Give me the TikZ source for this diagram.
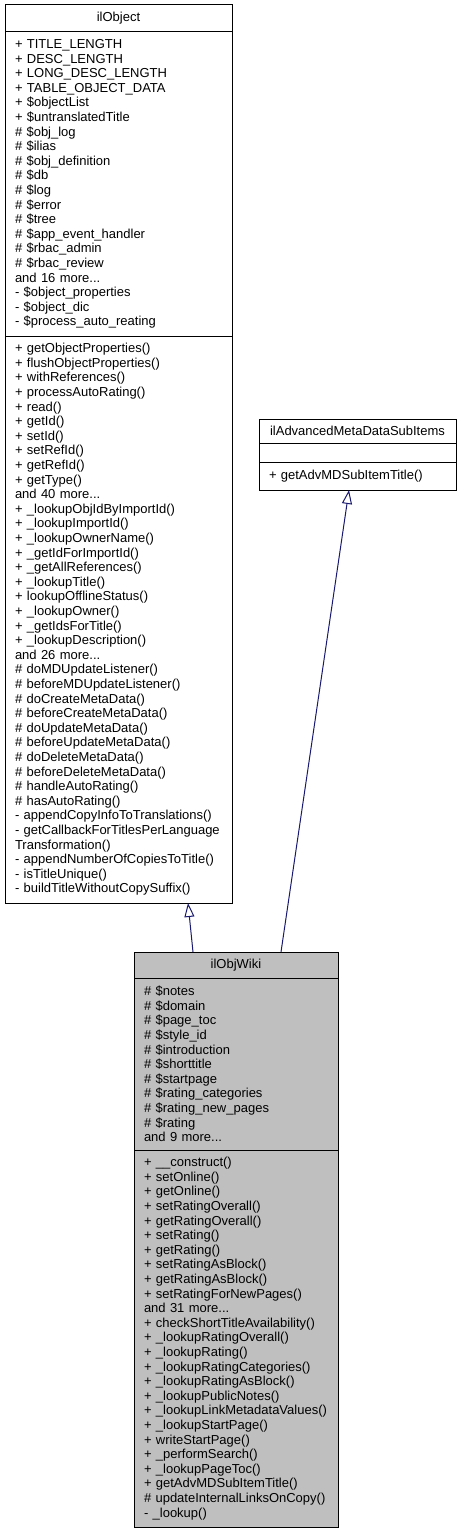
\documentclass[tikz,border=0pt]{standalone}
\usepackage{fontspec}
\setmainfont{Liberation Sans}
\usepackage{xcolor}
\usepackage{tikz}
\usetikzlibrary{arrows.meta}
\usetikzlibrary{positioning}
\definecolor{azulseta}{HTML}{191970}
\definecolor{cinzaclasse}{HTML}{BFBFBF}
\newcommand{\membro}{\fontsize{13}{14.6}\selectfont}
\tikzset{
  secao/.style={draw=black, line width=1pt, outer sep=0pt, inner xsep=10pt, inner ysep=2pt, text width=#1, align=left, font=\membro},
  secao/.default=207pt,
  titulo/.style={secao=#1, align=center},
  titulo/.default=207pt,
  heranca/.style={draw=azulseta, line width=1pt, -{Triangle[open, length=14pt, width=10pt]}},
}

\begin{document}
\begin{tikzpicture}[x=1pt, y=-1pt, node distance=0pt]
  \useasboundingbox (0,0) rectangle (461,1533);

  \node[titulo, minimum height=27pt, anchor=north west] (objtit) at (5,5) {ilObject};
  \node[secao, minimum height=304pt, below=of objtit] (objatr) {+ TITLE\_LENGTH\\
+ DESC\_LENGTH\\
+ LONG\_DESC\_LENGTH\\
+ TABLE\_OBJECT\_DATA\\
+ \$objectList\\
+ \$untranslatedTitle\\
\# \$obj\_log\\
\# \$ilias\\
\# \$obj\_definition\\
\# \$db\\
\# \$log\\
\# \$error\\
\# \$tree\\
\# \$app\_event\_handler\\
\# \$rbac\_admin\\
\# \$rbac\_review\\
and 16 more...\\
- \$object\_properties\\
- \$object\_dic\\
- \$process\_auto\_reating};
  \node[secao, minimum height=567pt, below=of objatr] (objmet) {+ getObjectProperties()\\
+ flushObjectProperties()\\
+ withReferences()\\
+ processAutoRating()\\
+ read()\\
+ getId()\\
+ setId()\\
+ setRefId()\\
+ getRefId()\\
+ getType()\\
and 40 more...\\
+ \_lookupObjIdByImportId()\\
+ \_lookupImportId()\\
+ \_lookupOwnerName()\\
+ \_getIdForImportId()\\
+ \_getAllReferences()\\
+ \_lookupTitle()\\
+ lookupOfflineStatus()\\
+ \_lookupOwner()\\
+ \_getIdsForTitle()\\
+ \_lookupDescription()\\
and 26 more...\\
\# doMDUpdateListener()\\
\# beforeMDUpdateListener()\\
\# doCreateMetaData()\\
\# beforeCreateMetaData()\\
\# doUpdateMetaData()\\
\# beforeUpdateMetaData()\\
\# doDeleteMetaData()\\
\# beforeDeleteMetaData()\\
\# handleAutoRating()\\
\# hasAutoRating()\\
- appendCopyInfoToTranslations()\\
-~getCallbackForTitlesPerLanguage\\
Transformation()\\
- appendNumberOfCopiesToTitle()\\
- isTitleUnique()\\
- buildTitleWithoutCopySuffix()};

  \node[titulo=177pt, minimum height=24pt, anchor=north west] (advtit) at (259,419) {ilAdvancedMetaDataSubItems};
  \node[secao=177pt, minimum height=19pt, below=of advtit] (advatr) {};
  \node[secao=177pt, minimum height=28pt, below=of advatr] (advmet) {+ getAdvMDSubItemTitle()};

  \node[titulo=184pt, fill=cinzaclasse, minimum height=26pt, anchor=north west] (wikitit) at (134,952) {ilObjWiki};
  \node[secao=184pt, fill=cinzaclasse, minimum height=172pt, below=of wikitit] (wikiatr) {\# \$notes\\
\# \$domain\\
\# \$page\_toc\\
\# \$style\_id\\
\# \$introduction\\
\# \$shorttitle\\
\# \$startpage\\
\# \$rating\_categories\\
\# \$rating\_new\_pages\\
\# \$rating\\
and 9 more...};
  \node[secao=184pt, fill=cinzaclasse, minimum height=377pt, below=of wikiatr] (wikimet) {+ \_\_construct()\\
+ setOnline()\\
+ getOnline()\\
+ setRatingOverall()\\
+ getRatingOverall()\\
+ setRating()\\
+ getRating()\\
+ setRatingAsBlock()\\
+ getRatingAsBlock()\\
+ setRatingForNewPages()\\
and 31 more...\\
+ checkShortTitleAvailability()\\
+ \_lookupRatingOverall()\\
+ \_lookupRating()\\
+ \_lookupRatingCategories()\\
+ \_lookupRatingAsBlock()\\
+ \_lookupPublicNotes()\\
+ \_lookupLinkMetadataValues()\\
+ \_lookupStartPage()\\
+ writeStartPage()\\
+ \_performSearch()\\
+ \_lookupPageToc()\\
+ getAdvMDSubItemTitle()\\
\# updateInternalLinksOnCopy()\\
- \_lookup()};

  \draw[heranca] ([xshift=59pt]wikitit.north west) -- ([xshift=183pt]objmet.south west);
  \draw[heranca] ([xshift=147pt]wikitit.north west) -- ([xshift=90pt]advmet.south west);
\end{tikzpicture}
\end{document}
